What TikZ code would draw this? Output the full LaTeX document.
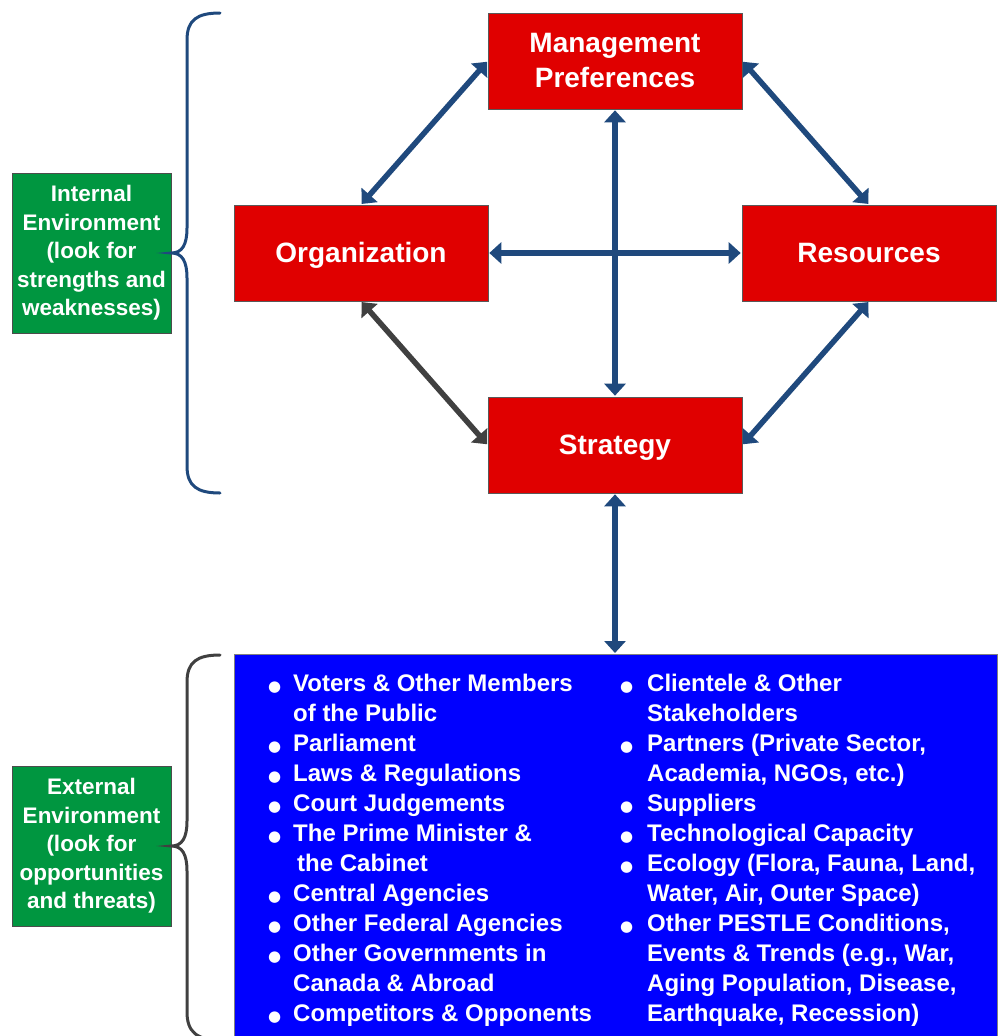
\documentclass[tikz,border=0pt]{standalone}
\usepackage{fontspec}
\setmainfont{Liberation Sans}
\newfontfamily\dotfont{DejaVu Sans}
\usetikzlibrary{arrows.meta}
\definecolor{boxred}{RGB}{224,0,0}
\definecolor{envgreen}{RGB}{0,150,64}
\definecolor{listblue}{RGB}{0,0,255}
\definecolor{linkblue}{RGB}{31,73,125}
\definecolor{linkgray}{RGB}{64,64,64}
\newcommand{\bul}[1]{\makebox[#1][l]{\dotfont\fontsize{15}{15}\selectfont ●}}
\begin{document}
\begin{tikzpicture}[x=1pt,y=-1pt,
	factor/.style={draw=gray!70!black,line width=0.6pt,fill=boxred,text=white,
		font=\fontsize{28}{35}\selectfont\bfseries,minimum width=254pt,minimum height=96pt,
		align=center,inner sep=0pt},
	oneline/.style={text height=20pt,text depth=2pt},
	env/.style={draw=gray!60!black,line width=0.6pt,fill=envgreen,text=white,
		font=\fontsize{22.5}{28.5}\selectfont\bfseries,minimum width=159pt,minimum height=160pt,
		align=center,inner sep=0pt},
	list/.style={text=white,font=\fontsize{24}{30}\selectfont\bfseries,inner sep=0pt,anchor=north west},
	link/.style={linkblue,line width=5.5pt,{Triangle[length=12pt,width=21pt]}-{Triangle[length=12pt,width=21pt]},
		shorten >=1pt,shorten <=1pt},
	brace/.style={line width=3pt,line cap=round}]
	\useasboundingbox (0,0) rectangle (997,1036);
	% boxes
	\node[factor] (mgmt) at (615,61) {Management\\Preferences};
	\node[factor,oneline] (org) at (361,253) {Organization};
	\node[factor,oneline] (res) at (869,253) {Resources};
	\node[factor,oneline] (strat) at (615,445) {Strategy};
	\node[env] (internal) at (91.5,253) {Internal\\Environment\\(look for\\strengths and\\weaknesses)};
	\node[env] (external) at (91.5,846) {External\\Environment\\(look for\\opportunities\\and threats)};
	\node[draw=gray,line width=0.6pt,fill=listblue,minimum width=763pt,minimum height=392pt,
		anchor=north west,inner sep=0pt] (ext) at (234,654) {};
	\node[list] (leftlist) at (268,670) {\begin{tabular}{@{}l@{}l@{}}
		\bul{25pt} & Voters \& Other Members\\
		& of the Public\\
		\bul{25pt} & Parliament\\
		\bul{25pt} & Laws \& Regulations\\
		\bul{25pt} & Court Judgements\\
		\bul{25pt} & The Prime Minister \&\\
		& \,the Cabinet\\
		\bul{25pt} & Central Agencies\\
		\bul{25pt} & Other Federal Agencies\\
		\bul{25pt} & Other Governments in\\
		& Canada \& Abroad\\
		\bul{25pt} & Competitors \& Opponents
	\end{tabular}};
	\node[list] (rightlist) at (620,670) {\begin{tabular}{@{}l@{}l@{}}
		\bul{27pt} & Clientele \& Other\\
		& Stakeholders\\
		\bul{27pt} & Partners (Private Sector,\\
		& Academia, NGOs, etc.)\\
		\bul{27pt} & Suppliers\\
		\bul{27pt} & Technological Capacity\\
		\bul{27pt} & Ecology (Flora, Fauna, Land,\\
		& Water, Air, Outer Space)\\
		\bul{27pt} & Other PESTLE Conditions,\\
		& Events \& Trends (e.g., War,\\
		& Aging Population, Disease,\\
		& Earthquake, Recession)
	\end{tabular}};
	% connectors
	\draw[link] (mgmt.west) -- (org.north);
	\draw[link] (mgmt.east) -- (res.north);
	\draw[link] (res.south) -- (strat.east);
	\draw[link,linkgray] (org.south) -- (strat.west);
	\draw[link] (mgmt.south) -- (strat.north);
	\draw[link] (org.east) -- (res.west);
	\draw[link] (strat.south) -- (strat.south |- ext.north);
	% braces
	\draw[brace,linkblue] (220,13) .. controls (197,13) and (187,20) .. (187,40) -- (187,228)
		.. controls (187,245) and (182,253) .. (internal.east)
		.. controls (182,253) and (187,261) .. (187,278) -- (187,466)
		.. controls (187,486) and (197,493) .. (220,493);
	\draw[brace,linkgray] (220,655) .. controls (197,655) and (187,662) .. (187,682) -- (187,821)
		.. controls (187,838) and (182,846) .. (external.east)
		.. controls (182,846) and (187,854) .. (187,871) -- (187,1012)
		.. controls (187,1032) and (197,1040) .. (220,1040);
\end{tikzpicture}
\end{document}
